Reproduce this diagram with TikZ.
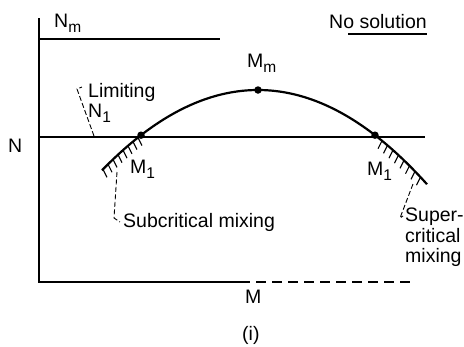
\documentclass[tikz,border=0pt]{standalone}
\usepackage{fontspec}
\setmainfont{Liberation Sans}
\usetikzlibrary{calc}
\newcommand\lowsub[1]{\raisebox{-5pt}{\fontsize{15.5}{15.5}\selectfont #1}}

\begin{document}
\begin{tikzpicture}[x=1pt, y=-1pt,
  every node/.style={font=\fontsize{19.5}{20.5}\selectfont, inner sep=0pt},
  lbl/.style={anchor=base west},
  axisln/.style={line width=1.4pt},
  refln/.style={line width=1.1pt},
  curve/.style={line width=2.2pt},
  leader/.style={line width=0.9pt, dash pattern=on 5pt off 2.5pt},
  hatch/.style={line width=1.1pt},
  dot/.style={circle, fill, minimum size=7.5pt, inner sep=0pt}
]
  \useasboundingbox (0,0) rectangle (464,346);

  % axes
  \coordinate (top) at (39,18);
  \coordinate (org) at (39,282);
  \coordinate (xmid) at (240,282);
  \coordinate (xend) at (415,282);
  \draw[axisln] (top) -- (org) -- (xmid);
  \draw[axisln, dash pattern=on 10pt off 6pt] (xmid) -- (xend);

  % N_m and N levels
  \coordinate (nm0) at (39,39);
  \coordinate (nm1) at (220,39);
  \draw[refln] (nm0) -- (nm1);
  \coordinate (n0) at (39,137);
  \coordinate (n1) at (425,137);
  \draw[refln] (n0) -- (n1);

  % mixing curve and hatching
  \draw[curve] plot[domain=102:427, samples=80] (\x, {90+0.33*((\x-258)/10)^2});
  \foreach \x in {103,108,...,138}
    \draw[hatch] (\x, {90+0.33*((\x-258)/10)^2}) -- ++(4,8);
  \foreach \x in {382,387.5,...,424}
    \draw[hatch] (\x, {90+0.33*((\x-258)/10)^2}) -- ++(-4,8);

  \node[dot] (ptl) at (141,135.2) {};
  \node[dot] (ptm) at (258,90) {};
  \node[dot] (ptr) at (375,135.2) {};

  % labels
  \node[lbl] (nmlab) at (54,27) {N\lowsub{m}};
  \node[lbl] (nlab) at (8,152) {N};
  \node[lbl] (mlab) at (245,303) {M};
  \node[lbl] (cap) at (242,340) {(i)};
  \node[lbl] (nosol) at (329,28) {No solution};
  \draw[refln] ($(nosol.base east)+(0,6)$) -- ++(-79,0);
  \node[lbl] (mm) at (247,67) {M\lowsub{m}};
  \node[lbl] (m1l) at (130,173) {M\lowsub{1}};
  \node[lbl] (m1r) at (367,175) {M\lowsub{1}};
  \node[anchor=north west, align=left] (lim) at (88,83) {Limiting\\N\lowsub{1}};
  \node[lbl] (sub) at (123,227) {Subcritical mixing};
  \node[anchor=north west, align=left] (sup) at (405,208) {Super-\\critical\\mixing};

  % leaders
  \coordinate (limtip) at (94,136);
  \draw[leader] (limtip) -- ++(-17,-47) -- ++(5,-2);
  \coordinate (subtip) at (117,172);
  \draw[leader] (subtip) -- ++(-3,46) -- ([xshift=-3pt]sub.west);
  \coordinate (suptip) at (413,184);
  \draw[leader] (suptip) -- ++(-13,34) -- ($(sup.north west)+(-2,8)$);
\end{tikzpicture}
\end{document}
